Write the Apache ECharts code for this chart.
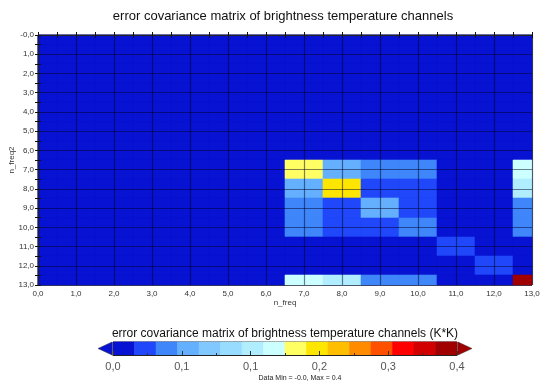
<!DOCTYPE html>
<html><head><meta charset="utf-8">
<script src="https://cdn.jsdelivr.net/npm/echarts@6/dist/echarts.min.js"></script>
<style>html,body{margin:0;padding:0;background:#fff}#c{width:541px;height:382px}</style>
</head><body><div id="c"></div>
<script>
// ---- data ----
const nFreq = [0,1,2,3,4,5,6,7,8,9,10,11,12,13];
// rows = n_freq2 (y), columns = n_freq (x)
const covRow0  = [0,0,0,0,0,0,0,0,0,0,0,0,0,0];
const covRow1  = [0,0,0,0,0,0,0,0,0,0,0,0,0,0];
const covRow2  = [0,0,0,0,0,0,0,0,0,0,0,0,0,0];
const covRow3  = [0,0,0,0,0,0,0,0,0,0,0,0,0,0];
const covRow4  = [0,0,0,0,0,0,0,0,0,0,0,0,0,0];
const covRow5  = [0,0,0,0,0,0,0,0,0,0,0,0,0,0];
const covRow6  = [0,0,0,0,0,0,0,0,0,0,0,0,0,0];
const covRow7  = [0,0,0,0,0,0,0,0.190,0.078,0.055,0.052,0,0,0.165];
const covRow8  = [0,0,0,0,0,0,0,0.078,0.215,0.034,0.032,0,0,0.146];
const covRow9  = [0,0,0,0,0,0,0,0.055,0.034,0.082,0.034,0,0,0.054];
const covRow10 = [0,0,0,0,0,0,0,0.052,0.032,0.034,0.058,0,0,0.052];
const covRow11 = [0,0,0,0,0,0,0,0,0,0,0,0.032,0,0];
const covRow12 = [0,0,0,0,0,0,0,0,0,0,0,0,0.033,0];
const covRow13 = [0,0,0,0,0,0,0,0.165,0.146,0.054,0.052,0,0,0.360];
const covariance = [covRow0,covRow1,covRow2,covRow3,covRow4,covRow5,covRow6,
                    covRow7,covRow8,covRow9,covRow10,covRow11,covRow12,covRow13];

const colorbarMin = 0;
const colorbarMax = 0.36;
const colorbarColors = ['#0812d2','#2048fa','#3e86fa','#64b0ff','#80c8ff','#98dcff','#b0eeff','#ccffff',
                        '#ffff64','#ffe600','#ffbe00','#ff8c00','#ff5000','#ff0000','#d20000','#a00000'];
const titleText = 'error covariance matrix of brightness temperature channels';
const colorbarTitle = 'error covariance matrix of brightness temperature channels (K*K)';
const statsText = 'Data Min = -0.0, Max = 0.4';
const xName = 'n_freq';
const yName = 'n_freq2';

// ---- derived ----
const cells = [];
covariance.forEach((row, i) => row.forEach((v, j) => cells.push([nFreq[j], nFreq[i], v])));
const nBins = colorbarColors.length;
const binW = (colorbarMax - colorbarMin) / nBins;
const pieces = colorbarColors.map((c, k) => {
  const p = {color: c};
  if (k > 0) p.gte = colorbarMin + k * binW;
  if (k < nBins - 1) p.lt = colorbarMin + (k + 1) * binW;
  return p;
});
const bins = colorbarColors.map((c, k) => [colorbarMin + k * binW, colorbarMin + (k + 1) * binW, k]);
const arrows = [[colorbarMin, -1, 0], [colorbarMax, 1, nBins - 1]];

const FONT = 'Liberation Sans, Arial, sans-serif';
const fmt1 = v => v.toFixed(1).replace('.', ',');

function renderCell(params, api) {
  const x = api.value(0), y = api.value(1);
  const p1 = api.coord([x - 0.5, y - 0.5]);
  const p2 = api.coord([x + 0.5, y + 0.5]);
  const cs = params.coordSys;
  const x0 = Math.round(Math.min(p1[0], p2[0])), x1 = Math.round(Math.max(p1[0], p2[0]));
  const y0 = Math.round(Math.min(p1[1], p2[1])), y1 = Math.round(Math.max(p1[1], p2[1]));
  const r = echarts.graphic.clipRectByRect(
    {x: x0, y: y0, width: x1 - x0, height: y1 - y0},
    {x: cs.x, y: cs.y, width: cs.width, height: cs.height});
  const col = api.visual('color');
  return r && {type: 'rect', shape: r, style: {fill: col, stroke: col, lineWidth: 0.6}};
}
function renderBin(params, api) {
  const p1 = api.coord([api.value(0), 1]);
  const p2 = api.coord([api.value(1), 0]);
  const col = colorbarColors[api.value(2)];
  return {type: 'rect', shape: {x: p1[0], y: p1[1], width: p2[0] - p1[0], height: p2[1] - p1[1]},
          style: {fill: col, stroke: col, lineWidth: 0.6}};
}
function renderArrow(params, api) {
  const dir = api.value(1);
  const top = api.coord([api.value(0), 1]);
  const bot = api.coord([api.value(0), 0]);
  const bx = top[0] + dir * 1;
  const tip = bx + dir * 14;
  return {type: 'polygon', shape: {points: [[bx, top[1]], [tip, (top[1] + bot[1]) / 2], [bx, bot[1]]]},
          style: {fill: colorbarColors[api.value(2)], stroke: '#333', lineWidth: 0.5}};
}

const chart = echarts.init(document.getElementById('c'));
const gridLine = {color: 'rgba(0,0,40,0.5)', width: 1.2};
const tickStyle = {color: '#111', width: 1};
chart.setOption({
  animation: false,
  textStyle: {fontFamily: FONT},
  graphic: [
    {type: 'text', x: 283, y: 16, style: {text: titleText, font: '13px ' + FONT, fill: '#111', align: 'center', verticalAlign: 'middle'}},
    {type: 'text', x: 285, y: 334, style: {text: colorbarTitle, font: '12px ' + FONT, fill: '#111', align: 'center', verticalAlign: 'middle'}},
    {type: 'text', x: 300, y: 378, style: {text: statsText, font: '7px ' + FONT, fill: '#222', align: 'center', verticalAlign: 'middle'}}
  ],
  grid: [
    {left: 38, right: 9, top: 35, bottom: 97, show: true, borderColor: '#222', borderWidth: 1, outerBoundsMode: 'none', containLabel: false},
    {left: 113, right: 84, top: 342, height: 13, show: true, borderColor: '#222', borderWidth: 1, outerBoundsMode: 'none', containLabel: false}
  ],
  visualMap: {type: 'piecewise', show: false, seriesIndex: [0], dimension: 2, pieces: pieces},
  xAxis: [
    {type: 'value', gridIndex: 0, position: 'bottom', min: 0, max: 13, interval: 1, z: 5,
     axisLine: {show: true, lineStyle: {color: '#222'}},
     axisTick: {show: true, inside: true, length: 3, lineStyle: tickStyle},
     minorTick: {show: true, splitNumber: 2, length: 3, lineStyle: tickStyle},
     splitLine: {show: true, lineStyle: gridLine},
     axisLabel: {fontSize: 8, color: '#333', margin: 5, formatter: fmt1},
     name: xName, nameLocation: 'middle', nameGap: 14, nameMoveOverlap: false, nameTextStyle: {fontSize: 8, color: '#333'}},
    {type: 'value', gridIndex: 0, position: 'top', min: 0, max: 13, interval: 1, z: 5,
     axisLine: {show: true, lineStyle: {color: '#222'}},
     axisTick: {show: true, inside: true, length: 3, lineStyle: tickStyle},
     minorTick: {show: true, splitNumber: 2, length: 3, lineStyle: tickStyle},
     splitLine: {show: false}, axisLabel: {show: false}},
    {type: 'value', gridIndex: 1, min: colorbarMin, max: colorbarMax, interval: (colorbarMax - colorbarMin) / 5, z: 5,
     axisLine: {show: true, lineStyle: {color: '#222'}},
     axisTick: {show: true, inside: true, length: 4, lineStyle: {color: '#333'}},
     minorTick: {show: true, splitNumber: 2, length: 2, lineStyle: {color: '#333'}},
     splitLine: {show: false},
     axisLabel: {fontSize: 11, color: '#555', margin: 6, formatter: fmt1}}
  ],
  yAxis: [
    {type: 'value', gridIndex: 0, position: 'left', inverse: true, min: 0, max: 13, interval: 1, z: 5,
     axisLine: {show: true, lineStyle: {color: '#222'}},
     axisTick: {show: true, inside: true, length: 3, lineStyle: tickStyle},
     minorTick: {show: true, splitNumber: 2, length: 3, lineStyle: tickStyle},
     splitLine: {show: true, lineStyle: gridLine},
     axisLabel: {fontSize: 8, color: '#333', margin: 4, formatter: v => (v === 0 ? '-0,0' : fmt1(v))},
     name: yName, nameLocation: 'middle', nameGap: 22, nameRotate: 90, nameMoveOverlap: false, nameTextStyle: {fontSize: 8, color: '#333'}},
    {type: 'value', gridIndex: 0, position: 'right', inverse: true, min: 0, max: 13, interval: 1, z: 5,
     axisLine: {show: true, lineStyle: {color: '#222'}},
     axisTick: {show: true, inside: true, length: 3, lineStyle: tickStyle},
     minorTick: {show: true, splitNumber: 2, length: 3, lineStyle: tickStyle},
     splitLine: {show: false}, axisLabel: {show: false}},
    {type: 'value', gridIndex: 1, min: 0, max: 1, show: false}
  ],
  series: [
    {type: 'custom', xAxisIndex: 0, yAxisIndex: 0, data: cells, renderItem: renderCell, encode: {x: 0, y: 1}, z: 2},
    {type: 'custom', xAxisIndex: 2, yAxisIndex: 2, data: bins, renderItem: renderBin, encode: {x: [0, 1]}, z: 2},
    {type: 'custom', xAxisIndex: 2, yAxisIndex: 2, data: arrows, renderItem: renderArrow, encode: {x: 0}, z: 2, clip: false}
  ]
});
</script></body></html>
